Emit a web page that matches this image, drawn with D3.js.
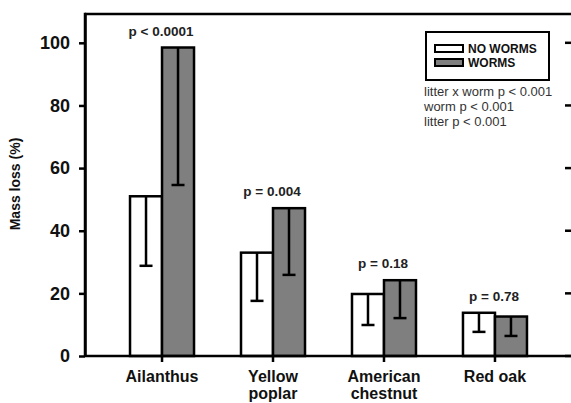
<!DOCTYPE html>
<html><head><meta charset="utf-8">
<script src="https://cdn.jsdelivr.net/npm/d3@7"></script>
<style>body{margin:0;background:#fff;}svg{display:block;font-family:"Liberation Sans",Arial,sans-serif;}</style>
</head><body>
<svg id="c" width="571" height="403"></svg>
<script>
const categories = ["Ailanthus", "Yellow poplar", "American chestnut", "Red oak"];
const categoryLines = [["Ailanthus"], ["Yellow", "poplar"], ["American", "chestnut"], ["Red oak"]];
const noWorms = [51, 33, 19.8, 13.8];
const noWormsLow = [28.8, 17.6, 9.9, 7.7];
const worms = [98.5, 47.2, 24.2, 12.6];
const wormsLow = [54.6, 25.9, 12.1, 6.4];
const pLabels = ["p < 0.0001", "p = 0.004", "p = 0.18", "p = 0.78"];
const yTicks = [0, 20, 40, 60, 80, 100];
const legendLabels = ["NO WORMS", "WORMS"];
const statsLines = ["litter x worm p < 0.001", "worm p < 0.001", "litter p < 0.001"];

const svg = d3.select("#c");
const L = 85, R = 572, T = 14, B = 356;
const y = d3.scaleLinear().domain([0, 109.2]).range([B, T]);
const x = d3.scaleBand().domain(categories).range([L, R]).paddingInner(0).paddingOuter(0.194);
const bw = 32;
const cx = c => x(c) + x.bandwidth() / 2;

// bars
const series = [
  {vals: noWorms, low: noWormsLow, fill: "#ffffff", off: -bw},
  {vals: worms, low: wormsLow, fill: "#7f7f7f", off: 0}
];
series.forEach(s => {
  const g = svg.append("g");
  g.selectAll("rect").data(categories).join("rect")
    .attr("x", (c) => cx(c) + s.off)
    .attr("y", (c, i) => y(s.vals[i]))
    .attr("width", bw)
    .attr("height", (c, i) => B - y(s.vals[i]))
    .attr("fill", s.fill).attr("stroke", "#000").attr("stroke-width", 2.5);
  g.selectAll("line.eb").data(categories).join("line").attr("class", "eb")
    .attr("x1", c => cx(c) + s.off + bw / 2).attr("x2", c => cx(c) + s.off + bw / 2)
    .attr("y1", (c, i) => y(s.vals[i])).attr("y2", (c, i) => y(s.low[i]))
    .attr("stroke", "#000").attr("stroke-width", 2.5);
  g.selectAll("line.cap").data(categories).join("line").attr("class", "cap")
    .attr("x1", c => cx(c) + s.off + bw / 2 - 6.5).attr("x2", c => cx(c) + s.off + bw / 2 + 6.5)
    .attr("y1", (c, i) => y(s.low[i])).attr("y2", (c, i) => y(s.low[i]))
    .attr("stroke", "#000").attr("stroke-width", 2.5);
});

// p labels
svg.append("g").selectAll("text").data(categories).join("text")
  .attr("x", c => cx(c) - 1)
  .attr("y", (c, i) => y(Math.max(noWorms[i], worms[i])) - 12)
  .attr("text-anchor", "middle").attr("font-size", 13.5).attr("font-weight", "bold").attr("fill", "#222")
  .text((c, i) => pLabels[i]);

// frame: top
svg.append("line").attr("x1", L).attr("x2", 571).attr("y1", T).attr("y2", T).attr("stroke", "#000").attr("stroke-width", 2.5);

// left axis
const yAxis = svg.append("g").attr("transform", `translate(${L},0)`)
  .call(d3.axisLeft(y).tickValues(yTicks).tickSize(6).tickSizeOuter(0).tickPadding(9));
yAxis.select(".domain").attr("stroke-width", 2.5);
yAxis.selectAll(".tick line").attr("stroke-width", 2.5);
yAxis.selectAll("text").attr("font-size", 18).attr("font-weight", "bold").attr("fill", "#111").attr("font-family", "Liberation Sans, Arial, sans-serif");
svg.append("line").attr("x1", L).attr("x2", L).attr("y1", T - 1.2).attr("y2", B).attr("stroke", "#000").attr("stroke-width", 2.5);

// right inward ticks (right axis line lies just outside the picture)
svg.append("g").selectAll("line").data(yTicks).join("line")
  .attr("x1", 565).attr("x2", 571).attr("y1", d => y(d)).attr("y2", d => y(d))
  .attr("stroke", "#000").attr("stroke-width", 2.5);

// bottom axis
const xAxis = svg.append("g").attr("transform", `translate(0,${B})`)
  .call(d3.axisBottom(x).tickSize(6).tickSizeOuter(0).tickFormat(""));
xAxis.select(".domain").attr("stroke-width", 2.5).attr("d", `M${L},0H571`);
xAxis.selectAll(".tick line").attr("stroke-width", 2.5);

// x labels
const xl = svg.append("g");
categories.forEach((c, i) => {
  const t = xl.append("text").attr("x", cx(c)).attr("y", 382)
    .attr("text-anchor", "middle").attr("font-size", 16).attr("font-weight", "bold").attr("fill", "#111");
  categoryLines[i].forEach((ln, j) => {
    t.append("tspan").attr("x", cx(c)).attr("dy", j === 0 ? 0 : 17).text(ln);
  });
});

// y label
svg.append("text").attr("transform", "translate(20,184) rotate(-90)")
  .attr("text-anchor", "middle").attr("font-size", 14).attr("font-weight", "bold").attr("fill", "#111")
  .text("Mass loss (%)");

// legend
const lg = svg.append("g");
lg.append("rect").attr("x", 426).attr("y", 32).attr("width", 123).attr("height", 48)
  .attr("fill", "#fff").attr("stroke", "#000").attr("stroke-width", 2);
const legendFills = ["#ffffff", "#7f7f7f"];
legendLabels.forEach((lab, i) => {
  lg.append("rect").attr("x", 435).attr("y", 45 + i * 14).attr("width", 28).attr("height", 7)
    .attr("fill", legendFills[i]).attr("stroke", "#000").attr("stroke-width", 2);
  lg.append("text").attr("x", 468).attr("y", 53 + i * 14).attr("font-size", 12).attr("font-weight", "bold").attr("fill", "#111").text(lab);
});

// stats text
svg.append("g").selectAll("text").data(statsLines).join("text")
  .attr("x", 424).attr("y", (d, i) => 96 + i * 15)
  .attr("font-size", 13).attr("fill", "#333").text(d => d);
</script>
</body></html>
